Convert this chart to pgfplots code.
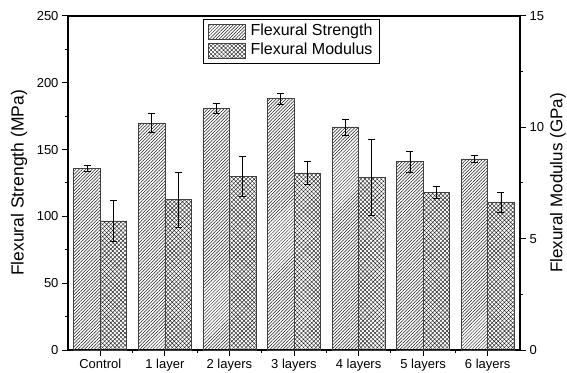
\documentclass[border=0pt]{standalone}
\usepackage{fontspec}
\setmainfont{Liberation Sans}
\usepackage{pgfplots}
\usepackage{pgfplotstable}
\pgfplotsset{compat=1.18}
\usetikzlibrary{patterns.meta}

\pgfplotstableread{
x y e
0 136 2.5
1 170 7.2
2 181 3.5
3 188 4.0
4 167 6.0
5 141 7.8
6 143 2.5
}\strength
\pgfplotstableread{
x y e
0 5.80 0.93
1 6.75 1.25
2 7.80 0.90
3 7.95 0.50
4 7.75 1.70
5 7.06 0.27
6 6.65 0.45
}\modulus

\tikzset{
  strpat/.style={draw=black!75, line width=0.7pt, pattern={Lines[angle=45,distance=2.3pt,line width=0.5pt]}, pattern color=black!90},
  modpat/.style={draw=black!75, line width=0.7pt, pattern={Hatch[angle=45,distance=2.9pt,line width=0.45pt]}, pattern color=black!85},
}
\pgfplotsset{
  myaxis/.style={
    scale only axis, width=452pt, height=334pt,
    xmin=-0.5, xmax=6.5, ybar, bar width=26.5pt,
    tick align=outside, major tick length=6pt, minor tick length=3pt,
    separate axis lines,
    axis line style={line width=1.2pt},
    every tick/.style={black, line width=1pt},
    tick label style={font=\fontsize{13}{15}\selectfont},
    /pgf/number format/assume math mode=true,
  },
  myerr/.style={error bars/.cd, y dir=both, y explicit,
    error bar style={black, line width=0.7pt},
    error mark options={rotate=90, mark size=3.5pt, line width=0.7pt, black}},
}

\begin{document}
\begin{tikzpicture}
\begin{axis}[myaxis,
  ymin=0, ymax=250,
  xtick={0,...,6},
  xticklabels={Control,1 layer,2 layers,3 layers,4 layers,5 layers,6 layers},
  minor xtick={0.5,1.5,...,5.5},
  xtick pos=bottom,
  ytick={0,50,...,250}, minor y tick num=1, ytick pos=left,
  every axis y label/.style={at={(axis description cs:-0.1084,0.5)},rotate=90,anchor=center,font=\fontsize{17.5}{20}\selectfont},
  ylabel={Flexural Strength (MPa)},
]
\addplot[strpat, bar shift=-13.25pt, myerr] table[x=x,y=y,y error=e]{\strength};
\end{axis}
\begin{axis}[myaxis,
  axis y line*=right, axis x line=none,
  ymin=0, ymax=15,
  ytick={0,5,10,15}, minor y tick num=1,
  every axis y label/.style={at={(axis description cs:1.0841,0.5)},rotate=90,anchor=center,font=\fontsize{17}{20}\selectfont},
  ylabel={Flexural Modulus (GPa)},
  legend image code/.code={\draw[#1,/tikz/.cd] (0pt,-7.5pt) rectangle (37pt,7.5pt);},
  legend style={at={(axis description cs:0.2987,0.991)}, anchor=north west,
    draw=black, line width=0.8pt, font=\fontsize{16}{18}\selectfont,
    inner xsep=5pt, inner ysep=4pt, row sep=1pt,
    /tikz/every odd column/.style={column sep=3pt},
    nodes={inner sep=1.5pt, text height=11pt, text depth=3.5pt}},
  legend cell align=left,
]
\addlegendimage{strpat}
\addlegendentry{Flexural Strength}
\addplot[modpat, bar shift=13.25pt, myerr] table[x=x,y=y,y error=e]{\modulus};
\addlegendentry{Flexural Modulus}
\end{axis}
\pgfresetboundingbox
\path (-68pt,-22pt) rectangle (499pt,350pt);
\end{tikzpicture}
\end{document}
